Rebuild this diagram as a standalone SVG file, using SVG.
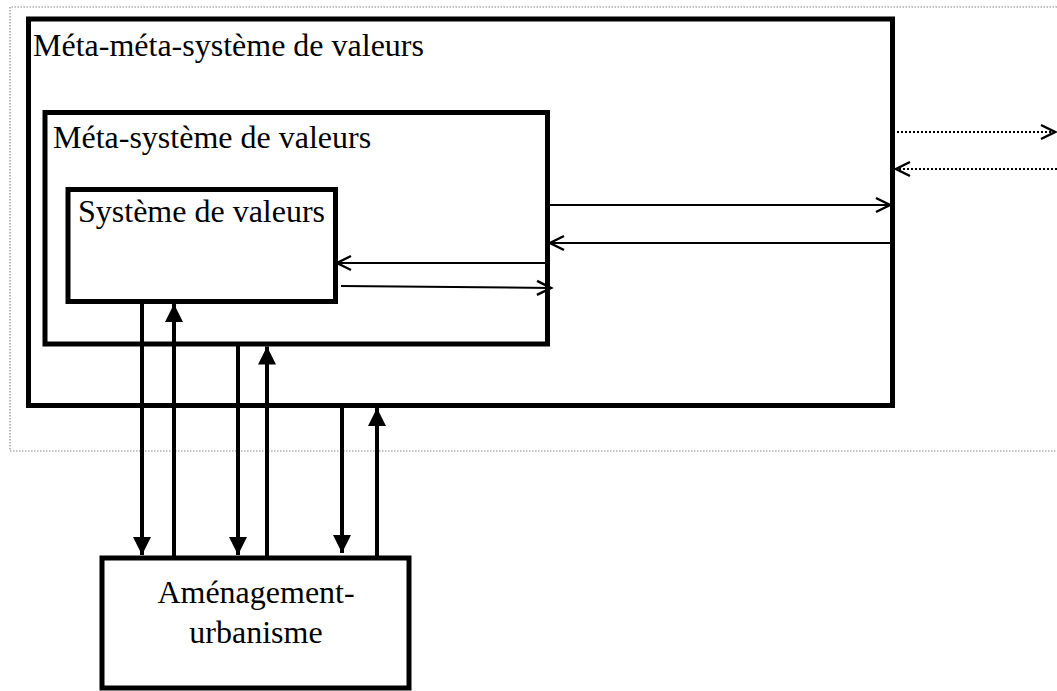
<svg xmlns="http://www.w3.org/2000/svg" width="1057" height="691" viewBox="0 0 1057 691">
<style>
.box{fill:none;stroke:#000;stroke-width:5}
.lbl{font-family:"Liberation Serif","Times New Roman",serif;font-size:32px;fill:#000}
.thick{stroke:#000;stroke-width:4;fill:none;marker-end:url(#fill)}
.thin{stroke:#000;stroke-width:2;fill:none;marker-end:url(#open)}
.dot{stroke:#000;stroke-width:2;fill:none;stroke-dasharray:2 2;marker-end:url(#open)}
</style>
<defs>
<marker id="fill" markerUnits="userSpaceOnUse" markerWidth="18" markerHeight="18" refX="18" refY="9" orient="auto" overflow="visible">
<path d="M0,0 L18,9 L0,18 z" fill="#000"/>
</marker>
<marker id="open" markerUnits="userSpaceOnUse" markerWidth="16" markerHeight="16" refX="14" refY="7" orient="auto" overflow="visible">
<path d="M0,0 L14,7 L0,14" fill="none" stroke="#000" stroke-width="2.5"/>
</marker>
</defs>
<rect width="1057" height="691" fill="#fff"/>
<path id="frame" d="M1057,7 L10,7 L10,451 L1057,451" fill="none" stroke="#888" stroke-width="1.2" stroke-dasharray="1.5 1.5"/>
<g id="meta-meta">
<rect class="box" x="28.5" y="19" width="864" height="386.5"/>
<text class="lbl" x="33" y="56">Méta-méta-système de valeurs</text>
</g>
<g id="meta">
<rect class="box" x="45" y="112.5" width="502.5" height="231.5"/>
<text class="lbl" x="53" y="148">Méta-système de valeurs</text>
</g>
<g id="systeme">
<rect class="box" x="68" y="189.5" width="267.5" height="112" stroke-width="6"/>
<text class="lbl" x="78" y="222">Système de valeurs</text>
</g>
<g id="amenagement">
<rect class="box" x="102" y="558" width="307" height="130" stroke-width="4.5"/>
<text class="lbl" x="256" y="603" text-anchor="middle">Aménagement-</text>
<text class="lbl" x="256" y="643" text-anchor="middle">urbanisme</text>
</g>
<g id="connectors">
<path class="thick" d="M142,304 L142,555"/>
<path class="thick" d="M174,556 L174,304"/>
<path class="thick" d="M238,346 L238,555"/>
<path class="thick" d="M267,556 L267,346.5"/>
<path class="thick" d="M342,408 L342,553"/>
<path class="thick" d="M377,556 L377,408"/>
<path class="thin" d="M550,205 L890,205"/>
<path class="thin" d="M890,243 L550,243"/>
<path class="thin" d="M545,263 L337,263"/>
<path class="thin" d="M341,286 L551,288"/>
<path class="dot" d="M897,132 L1055,132"/>
<path class="dot" d="M1057,169 L896,169"/>
</g>
</svg>
